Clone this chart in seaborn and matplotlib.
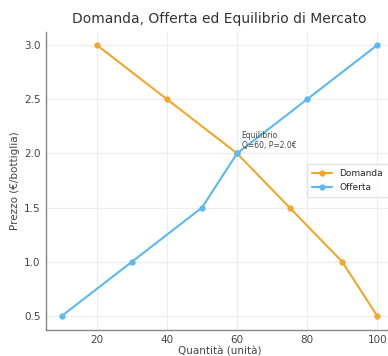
import pandas as pd
import seaborn as sns
import matplotlib.pyplot as plt

domanda_q = [20, 40, 60, 75, 90, 100]
domanda_p = [3.0, 2.5, 2.0, 1.5, 1.0, 0.5]
offerta_q = [10, 30, 50, 60, 80, 100]
offerta_p = [0.5, 1.0, 1.5, 2.0, 2.5, 3.0]

df = pd.concat([
    pd.DataFrame({'q': domanda_q, 'p': domanda_p, 'serie': 'Domanda'}),
    pd.DataFrame({'q': offerta_q, 'p': offerta_p, 'serie': 'Offerta'}),
])

sns.set_style("whitegrid")
plt.rcParams['font.family'] = ['DejaVu Sans']

fig = plt.figure(figsize=(3.88, 3.56), dpi=100)
ax = fig.add_axes([0.1186, 0.0744, 0.8944, 0.8371])

sns.lineplot(
    data=df, x='q', y='p', hue='serie', marker='o', markersize=4.5,
    markeredgewidth=0, linewidth=1.5, sort=False, ax=ax,
    palette={'Domanda': '#f2a72a', 'Offerta': '#5ab9ef'},
)

ax.text(61.3, 2.03, "Equilibrio\nQ=60, P=2.0€", fontsize=5.5, color='#444444',
        ha='left', va='bottom', linespacing=1.1)

ax.set_title("Domanda, Offerta ed Equilibrio di Mercato", fontsize=10, color='#333333', pad=6)
ax.set_xlabel("Quantità (unità)", fontsize=7.5, color='#444444', labelpad=1)
ax.set_ylabel("Prezzo (€/bottiglia)", fontsize=7.5, color='#444444', labelpad=3)
ax.set_xticks([20, 40, 60, 80, 100])
ax.set_yticks([0.5, 1.0, 1.5, 2.0, 2.5, 3.0])
ax.tick_params(labelsize=7.5, colors='#444444', length=2, pad=2)
ax.grid(True, color='#ececec', linewidth=0.8)
for s in ['top', 'right']:
    ax.spines[s].set_visible(False)
for s in ['left', 'bottom']:
    ax.spines[s].set_color('#888888')
    ax.spines[s].set_linewidth(1.0)

ax.legend(title=None, loc='center right', fontsize=6.5, frameon=True,
          edgecolor='#dddddd', borderpad=0.6, handlelength=2.2)

fig.savefig("out.png", dpi=100)
